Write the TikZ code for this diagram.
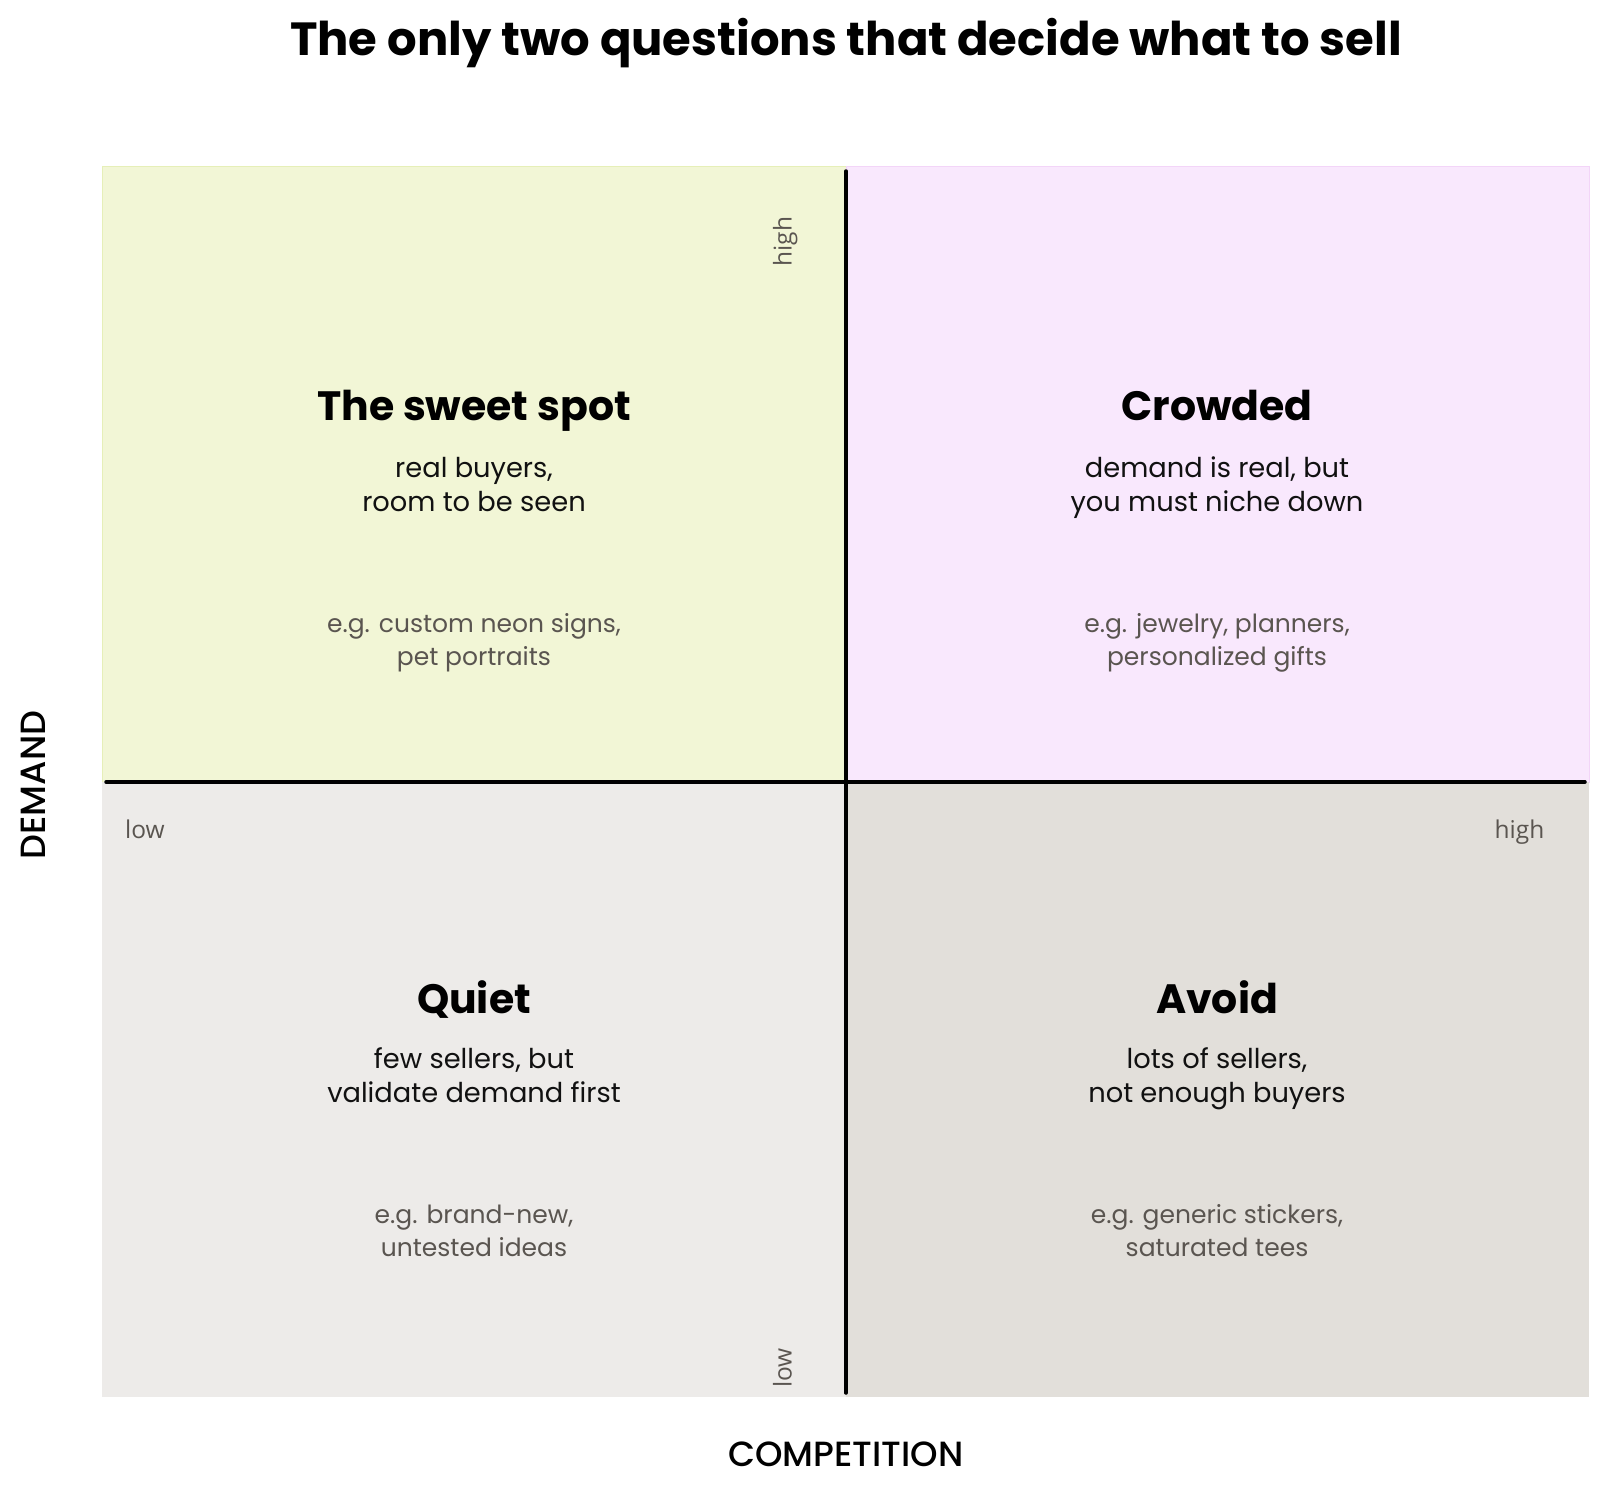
\documentclass[tikz,border=0pt]{standalone}
\usepackage{fontspec}
\setmainfont{Poppins}
\newfontfamily\axisfont{Open Sans}
\newfontfamily\medfont{Poppins Medium}
\definecolor{sweetfill}{HTML}{F2F6D6}
\definecolor{sweetline}{HTML}{E6EFB8}
\definecolor{crowdfill}{HTML}{F9E8FD}
\definecolor{crowdline}{HTML}{F3D5F8}
\definecolor{quietfill}{HTML}{EDEBE9}
\definecolor{avoidfill}{HTML}{E2DFDA}
\definecolor{textgray}{HTML}{5A5550}
\definecolor{ink}{HTML}{111111}
\tikzset{
  every node/.style={inner sep=0pt, anchor=base},
  titletext/.style={font=\fontsize{46.5}{52}\selectfont\bfseries, text=black},
  headtext/.style={font=\fontsize{41}{48}\selectfont\bfseries, text=black},
  subtext/.style={font=\fontsize{27.3}{34}\selectfont, text=ink},
  egtext/.style={font=\fontsize{25}{32}\selectfont, text=textgray},
  ticktext/.style={font=\axisfont\fontsize{24.5}{28}\selectfont, text=textgray},
  axistext/.style={font=\medfont\fontsize{35}{40}\selectfont, text=black},
  axisline/.style={line width=3.5pt, line cap=round, draw=black},
}
\begin{document}
\begin{tikzpicture}[x=1pt,y=-1pt]
\useasboundingbox (0,0) rectangle (1609,1494);
\fill[white] (0,0) rectangle (1609,1494);
% quadrants
\filldraw[fill=sweetfill, draw=sweetline, line width=1pt] (102,166) rectangle (846,782);
\filldraw[fill=crowdfill, draw=crowdline, line width=1pt] (846,166) rectangle (1589,782);
\fill[quietfill] (102,782) rectangle (846,1397);
\fill[avoidfill] (846,782) rectangle (1589,1397);
% axes
\coordinate (vtop) at (846,171);
\coordinate (vbot) at (846,1393);
\coordinate (hleft) at (106,782);
\coordinate (hright) at (1585,782);
\draw[axisline] (vtop) -- (vbot);
\draw[axisline] (hleft) -- (hright);
% title
\node[titletext] (title) at (846,55) {The only two questions that decide what to sell};
% sweet spot
\node[headtext] (sweet) at (474,420) {The sweet spot};
\node[subtext] (sweetsubA) at (474,477.3) {real buyers,};
\node[subtext] (sweetsubB) at (474,511.7) {room to be seen};
\node[egtext] (sweetegA) at (474,632.7) {e.g. custom neon signs,};
\node[egtext] (sweetegB) at (474,665) {pet portraits};
% crowded
\node[headtext] (crowd) at (1217,420) {Crowded};
\node[subtext] (crowdsubA) at (1217,477.3) {demand is real, but};
\node[subtext] (crowdsubB) at (1217,511.7) {you must niche down};
\node[egtext] (crowdegA) at (1217,632.7) {e.g. jewelry, planners,};
\node[egtext] (crowdegB) at (1217,665) {personalized gifts};
% quiet
\node[headtext] (quiet) at (474,1013) {Quiet};
\node[subtext] (quietsubA) at (474,1068) {few sellers, but};
\node[subtext] (quietsubB) at (474,1102.7) {validate demand first};
\node[egtext] (quietegA) at (474,1223) {e.g. brand-new,};
\node[egtext] (quietegB) at (474,1256) {untested ideas};
% avoid
\node[headtext] (avoid) at (1217,1013) {Avoid};
\node[subtext] (avoidsubA) at (1217,1068) {lots of sellers,};
\node[subtext] (avoidsubB) at (1217,1102.7) {not enough buyers};
\node[egtext] (avoidegA) at (1217,1223) {e.g. generic stickers,};
\node[egtext] (avoidegB) at (1217,1256) {saturated tees};
% tick labels
\node[ticktext, rotate=90] (dhigh) at (791.7,241.5) {high};
\node[ticktext, rotate=90] (dlow) at (791.7,1368) {low};
\node[ticktext] (clow) at (145,838) {low};
\node[ticktext] (chigh) at (1519.5,838) {high};
% axis titles
\node[axistext, rotate=90] (demand) at (45,785) {DEMAND};
\node[axistext] (comp) at (846,1466.7) {COMPETITION};
\end{tikzpicture}
\end{document}
